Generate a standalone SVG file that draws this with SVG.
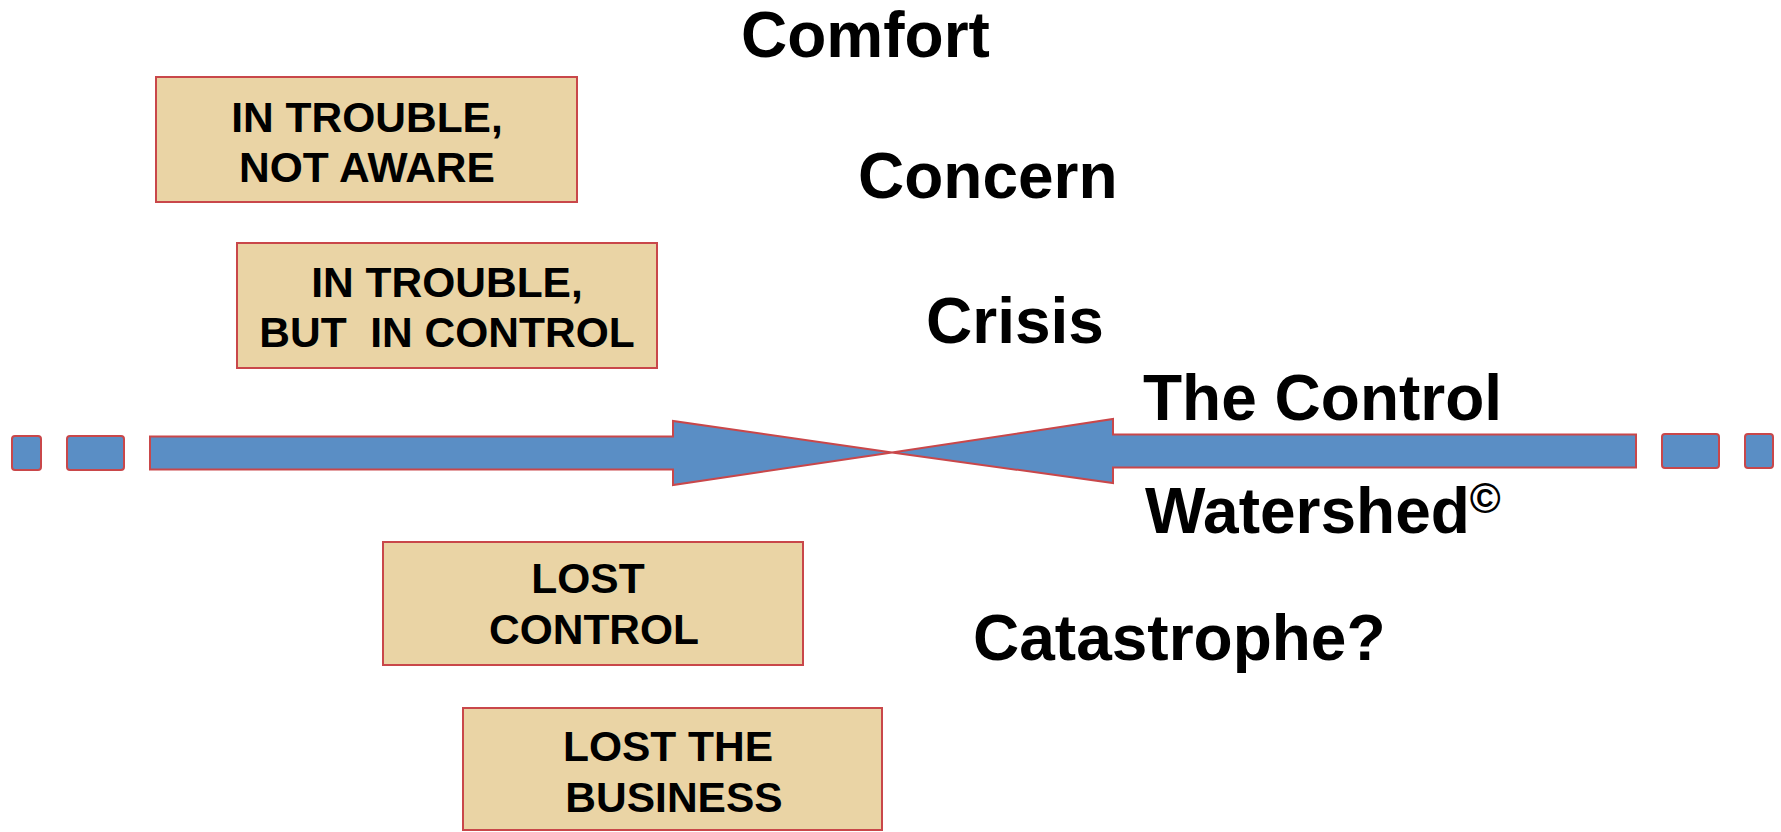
<svg xmlns="http://www.w3.org/2000/svg" width="1781" height="832" viewBox="0 0 1781 832">
<style>
.box{fill:#ead4a5;stroke:#c9474a;stroke-width:2}
.bar{fill:#5a8ec5;stroke:#c9474a;stroke-width:2;stroke-linejoin:miter}
.bt{font-family:"Liberation Sans",Arial,sans-serif;font-weight:bold;font-size:42.5px;fill:#000;text-anchor:middle}
.lbl{font-family:"Liberation Sans",Arial,sans-serif;font-weight:bold;font-size:64px;fill:#000}
</style>
<rect width="1781" height="832" fill="#fff"/>
<g id="connectors">
<rect class="bar" x="12" y="436" width="29" height="34" rx="3"/>
<rect class="bar" x="67" y="436" width="57" height="34" rx="3"/>
<polygon class="bar" points="150,436.5 673,436.5 673,421 892,452.5 673,485 673,469.5 150,469.5"/>
<polygon class="bar" points="1636,434.5 1113,434.5 1113,419 892,452.5 1113,483 1113,467.5 1636,467.5"/>
<rect class="bar" x="1662" y="434" width="57" height="34" rx="3"/>
<rect class="bar" x="1745" y="434" width="28" height="34" rx="3"/>
</g>
<g id="node-not-aware">
<rect class="box" x="156" y="77" width="421" height="125"/>
<text class="bt" x="367" y="132">IN TROUBLE,</text>
<text class="bt" x="367" y="182">NOT AWARE</text>
</g>
<g id="node-in-control">
<rect class="box" x="237" y="243" width="420" height="125"/>
<text class="bt" x="447" y="297">IN TROUBLE,</text>
<text class="bt" x="447" y="347" xml:space="preserve">BUT  IN CONTROL</text>
</g>
<g id="node-lost-control">
<rect class="box" x="383" y="542" width="420" height="123"/>
<text class="bt" x="588" y="593">LOST</text>
<text class="bt" x="594" y="644">CONTROL</text>
</g>
<g id="node-lost-business">
<rect class="box" x="463" y="708" width="419" height="122"/>
<text class="bt" x="668" y="761">LOST THE</text>
<text class="bt" x="674" y="812">BUSINESS</text>
</g>
<g id="labels">
<text class="lbl" x="741" y="57">Comfort</text>
<text class="lbl" x="858" y="198">Concern</text>
<text class="lbl" x="926" y="343">Crisis</text>
<text class="lbl" x="1143" y="420">The Control</text>
<text class="lbl" x="1145" y="533">Watershed<tspan font-size="42" dy="-20">©</tspan></text>
<text class="lbl" x="973" y="660">Catastrophe?</text>
</g>
</svg>
